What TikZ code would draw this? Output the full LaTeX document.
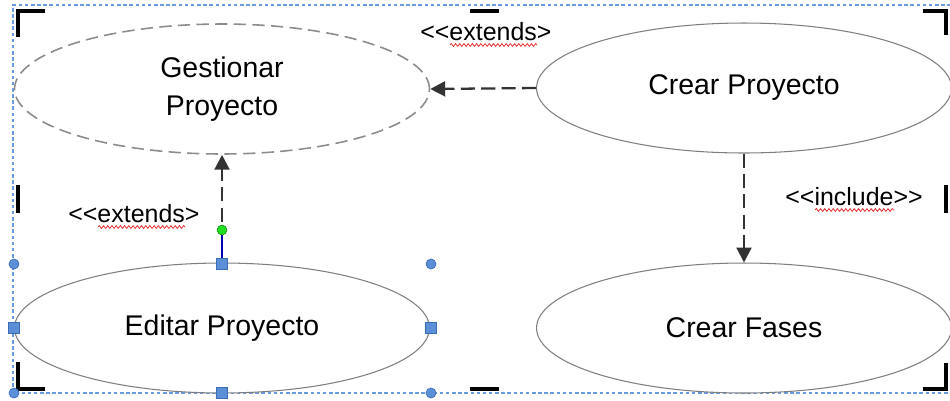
\documentclass[tikz,border=0pt]{standalone}
\usepackage{fontspec}
\setmainfont{Liberation Sans}
\usetikzlibrary{shapes.geometric,arrows.meta,decorations.pathmorphing,calc}
\definecolor{caseline}{HTML}{7F7F7F}
\definecolor{linkline}{HTML}{333333}
\definecolor{selblue}{HTML}{6A9BE0}
\definecolor{handlefill}{HTML}{5B8FD8}
\definecolor{handleline}{HTML}{3D6DB5}
\definecolor{spellred}{HTML}{E02020}
\definecolor{gripgreen}{HTML}{22DD22}

\begin{document}
\begin{tikzpicture}[x=0.02cm, y=-0.02cm, >={Triangle[length=8.5pt,width=8.5pt]},
  every node/.style={font=\fontsize{16.2pt}{21.5pt}\selectfont},
  usecase/.style={ellipse, draw=caseline, line width=0.6pt, fill=white,
    minimum width=8.3cm, minimum height=2.6cm, inner sep=0pt, align=center},
  basecase/.style={usecase, draw=caseline!90, line width=0.9pt,
    dash pattern=on 7pt off 3.6pt},
  deplink/.style={->, draw=linkline, line width=1.3pt, dash pattern=on 8pt off 3.6pt},
  stereo/.style={font=\fontsize{14.2pt}{17pt}\selectfont, inner sep=0pt, anchor=base west},
  spell/.style={draw=spellred, line width=0.4pt,
    decorate, decoration={snake, amplitude=0.8pt, segment length=2.4pt}},
  corner/.style={line width=2.8pt, black},
  hround/.style={circle, fill=handlefill, draw=handleline, line width=0.4pt,
    minimum size=0.2cm, inner sep=0pt},
  hsquare/.style={rectangle, fill=handlefill, draw=handleline, line width=0.4pt,
    minimum size=0.22cm, inner sep=0pt}]
  \useasboundingbox (0,0) rectangle (950,400);

  \draw[selblue, line width=0.6pt, dash pattern=on 2pt off 1.5pt]
    (1000,5) -- (13,5) -- (13,393) -- (1000,393);

  \node[basecase] (gestionar) at (222,89) {Gestionar\\Proyecto};
  \node[usecase] (crearproy) at (744,88) {Crear Proyecto};
  \node[usecase] (editar) at (222,328) {Editar Proyecto};
  \node[usecase] (crearfases) at (744,328) {Crear Fases};

  \draw[deplink] (crearproy.west) -- (gestionar.east);
  \draw[deplink] (editar.north) -- (gestionar.south);
  \draw[deplink] (crearproy.south) -- (crearfases.north);

  \node[stereo] (extA) at (420,40) {<\kern0pt<extends>};
  \node[stereo] (extB) at (68,222) {<\kern0pt<extends>};
  \node[stereo] (incl) at (785,205) {<\kern0pt<include>\kern0pt>};
  \draw[spell] ($(extA.base west)+(30,5)$) -- ($(extA.base west)+(117,5)$);
  \draw[spell] ($(extB.base west)+(30,5)$) -- ($(extB.base west)+(117,5)$);
  \draw[spell] ($(incl.base west)+(30,5)$) -- ($(incl.base west)+(109,5)$);

  \draw[corner] (18,37) -- (18,11) -- (45,11);
  \draw[corner] (470,11) -- (499,11);
  \draw[corner] (923,11) -- (946,11) -- (946,35);
  \draw[corner] (18,185) -- (18,213);
  \draw[corner] (946,185) -- (946,213);
  \draw[corner] (18,362) -- (18,389) -- (45,389);
  \draw[corner] (470,389) -- (499,389);
  \draw[corner] (923,389) -- (946,389) -- (946,363);

  \node[circle, fill=gripgreen, draw=gripgreen!60!black, line width=0.3pt,
    minimum size=0.2cm, inner sep=0pt] (grip) at (222,230) {};
  \draw[blue!70!black, line width=1.1pt] (grip.south) -- (editar.north);
  \node[hround] (h1) at (14,264) {};
  \node[hsquare] (h2) at (222,264) {};
  \node[hround] (h3) at (431,264) {};
  \node[hsquare] (h4) at (14,328) {};
  \node[hsquare] (h5) at (431,328) {};
  \node[hround] (h6) at (14,393) {};
  \node[hsquare] (h7) at (222,393) {};
  \node[hround] (h8) at (431,393) {};
\end{tikzpicture}
\end{document}
